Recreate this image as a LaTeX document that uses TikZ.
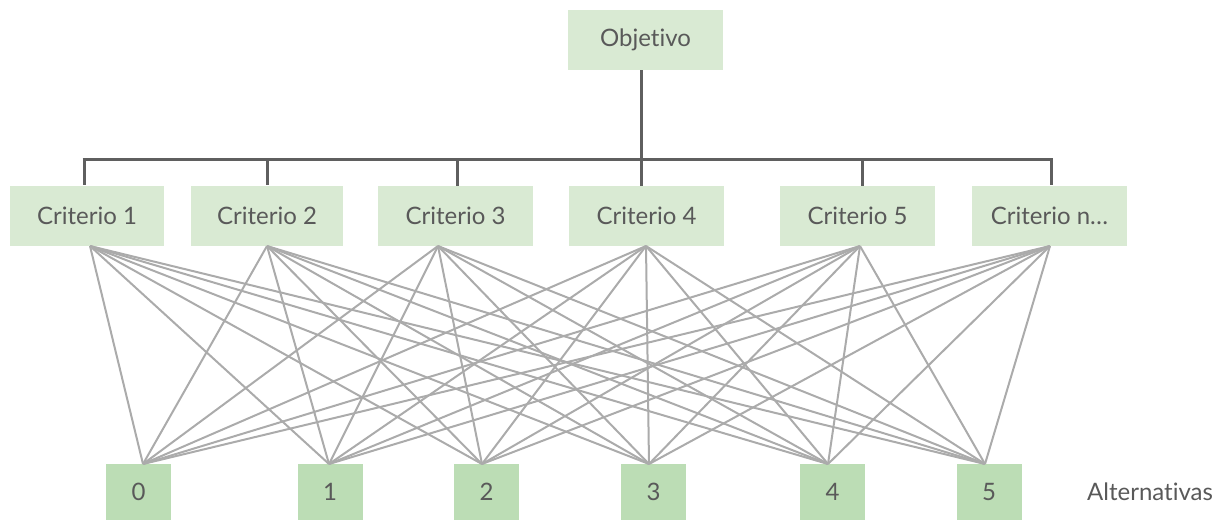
\documentclass[tikz,border=0pt]{standalone}
\usepackage{fontspec}
\setmainfont[Ligatures={NoCommon,NoRare}]{Lato}
\definecolor{txt}{HTML}{595959}
\definecolor{critfill}{HTML}{D9EAD3}
\definecolor{altfill}{HTML}{BCDDB5}
\definecolor{wire}{HTML}{ABABAB}
\definecolor{tree}{HTML}{5F5F5F}
\tikzset{
  crit/.style={fill=critfill, minimum width=155pt, minimum height=60pt, inner sep=0pt, text=txt, font=\fontsize{24}{28}\selectfont},
  alt/.style={fill=altfill, minimum width=65pt, minimum height=56pt, inner sep=0pt, text=txt, font=\fontsize{24}{28}\selectfont},
  treeline/.style={draw=tree, line width=3pt},
  wireline/.style={draw=wire, line width=2pt},
}
\begin{document}
\begin{tikzpicture}[x=1pt,y=-1pt]
\useasboundingbox (0,0) rectangle (1228,520);
\node[crit] (obj) at (645.5,40) {Objetivo};
\node[crit, minimum width=154pt] (c1) at (87,215.5) {Criterio 1};
\node[crit, minimum width=152pt] (c2) at (267,215.5) {Criterio 2};
\node[crit] (c3) at (455.5,215.5) {Criterio 3};
\node[crit] (c4) at (646.5,215.5) {Criterio 4};
\node[crit] (c5) at (857.5,215.5) {Criterio 5};
\node[crit] (cn) at (1049.5,215.5) {Criterio n…};
\node[alt] (a0) at (138.5,492) {0};
\node[alt] (a1) at (330,492) {1};
\node[alt] (a2) at (486.5,492) {2};
\node[alt] (a3) at (653.5,492) {3};
\node[alt] (a4) at (832.5,492) {4};
\node[alt] (a5) at (989,492) {5};
\node[text=txt, font=\fontsize{24}{28}\selectfont, anchor=west, inner sep=0pt] (altlabel) at (1087,492) {Alternativas};
% tree
\coordinate (bus) at (641,159);
\coordinate (busL) at (84,159);
\coordinate (busR) at (1051,159);
\draw[treeline] (obj.south -| bus) -- (bus);
\draw[treeline, line cap=butt] ([xshift=-1.5pt]busL) -- ([xshift=1.5pt]busR);
\draw[treeline] (busL) -- (busL |- c1.north);
\draw[treeline] (267,159) -- (c2.north);
\draw[treeline] (457,159) -- (457,185.5);
\draw[treeline] (641,159) -- (641,185.5);
\draw[treeline] (862,159) -- (862,185.5);
\draw[treeline] (busR) -- (busR |- cn.north);
% wires
\coordinate (s1) at (90,246);
\coordinate (s2) at (267,246);
\coordinate (s3) at (438,246);
\coordinate (s4) at (646,246);
\coordinate (s5) at (860,246);
\coordinate (s6) at (1050,246);
\coordinate (t0) at (143,464);
\coordinate (t1) at (329,464);
\coordinate (t2) at (482,464);
\coordinate (t3) at (649,464);
\coordinate (t4) at (828,464);
\coordinate (t5) at (985,464);
\foreach \s in {1,...,6}{
  \foreach \t in {0,...,5}{
    \draw[wireline] (s\s) -- (t\t);
  }
}
\end{tikzpicture}
\end{document}
